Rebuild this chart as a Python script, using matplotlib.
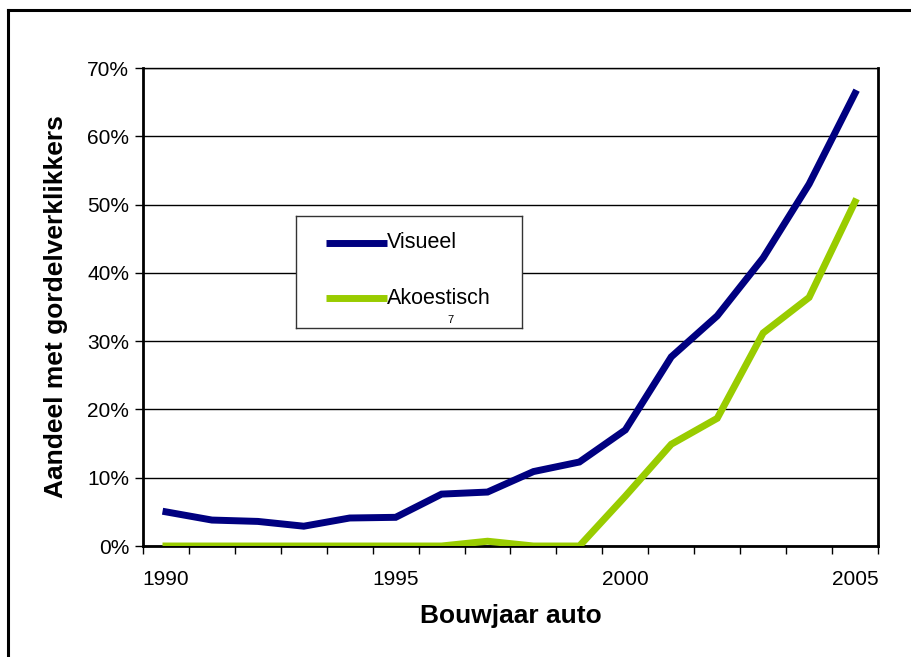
import matplotlib
matplotlib.use("Agg")
import matplotlib.pyplot as plt
from matplotlib.lines import Line2D
from matplotlib.ticker import FixedLocator, FuncFormatter

plt.rcParams['font.family'] = ['Liberation Sans', 'DejaVu Sans']

years = list(range(1990, 2006))
visueel = [5.0, 3.8, 3.6, 2.9, 4.1, 4.2, 7.6, 7.9, 10.9, 12.3, 17.0, 27.7, 33.7, 42.2, 53.0, 66.3]
akoestisch = [0.0, 0.0, 0.0, 0.0, 0.0, 0.0, 0.0, 0.7, 0.0, 0.0, 7.3, 14.9, 18.7, 31.2, 36.4, 50.4]
year_labels = ['1990', '1995', '2000', '2005']
y_ticks = [0, 10, 20, 30, 40, 50, 60, 70]

W, H = 912, 657
fig = plt.figure(figsize=(W / 100, H / 100), dpi=100)
fig.patch.set_facecolor('white')

# outer chart frame (left and top edges)
fig.add_artist(Line2D([8 / W, 8 / W], [0, 1 - 10 / H], color='black', lw=2.2))
fig.add_artist(Line2D([8 / W, 1], [1 - 10 / H, 1 - 10 / H], color='black', lw=2.2))

ax = fig.add_axes([143 / W, (H - 546) / H, 735 / W, 478 / H])
x = list(range(len(years)))
ax.plot(x, visueel, color='#000080', lw=5.0, solid_joinstyle='miter', zorder=3, label='Visueel')
ax.plot(x, akoestisch, color='#99CC00', lw=5.0, solid_joinstyle='miter', zorder=3, label='Akoestisch')

ax.set_xlim(-0.5, len(years) - 0.5)
ax.set_ylim(0, 70)

# category axis: tick marks between categories, labels every 5 years
ax.xaxis.set_major_locator(FixedLocator([0, 5, 10, 15]))
ax.set_xticklabels(year_labels)
ax.xaxis.set_minor_locator(FixedLocator([i - 0.5 for i in range(len(years) + 1)]))
ax.tick_params(axis='x', which='major', length=0, pad=17, labelsize=15)
ax.tick_params(axis='x', which='minor', length=6, width=1, direction='out', color='black')

ax.yaxis.set_major_locator(FixedLocator(y_ticks))
ax.yaxis.set_major_formatter(FuncFormatter(lambda v, p: f'{int(v)}%'))
ax.tick_params(axis='y', length=6, width=1, direction='out', pad=4, labelsize=15)

ax.grid(axis='y', color='black', lw=1.0, zorder=1)
for side in ['left', 'bottom', 'right']:
    ax.spines[side].set_linewidth(2.0)
    ax.spines[side].set_color('black')
ax.spines['top'].set_linewidth(1.0)

ax.set_xlabel('Bouwjaar auto', fontsize=19, fontweight='bold', labelpad=11)
ax.set_ylabel('Aandeel met gordelverklikkers', fontsize=19, fontweight='bold', labelpad=14)

# legend box
leg_ax = fig.add_axes([296 / W, (H - 328) / H, 226 / W, 112 / H])
leg_ax.set_xlim(0, 226)
leg_ax.set_ylim(112, 0)
leg_ax.set_xticks([])
leg_ax.set_yticks([])
for s in leg_ax.spines.values():
    s.set_linewidth(1.0)
    s.set_color('#333333')
leg_ax.plot([30, 91], [27, 27], color='#000080', lw=5.0, solid_capstyle='butt')
leg_ax.plot([30, 91], [82, 82], color='#99CC00', lw=5.0, solid_capstyle='butt')
leg_ax.text(91, 27, 'Visueel', fontsize=15.5, va='center', ha='left')
leg_ax.text(91, 82, 'Akoestisch', fontsize=15.5, va='center', ha='left')
leg_ax.text(154, 104, '7', fontsize=8, va='center', ha='center')

fig.savefig('out.png', dpi=100)
